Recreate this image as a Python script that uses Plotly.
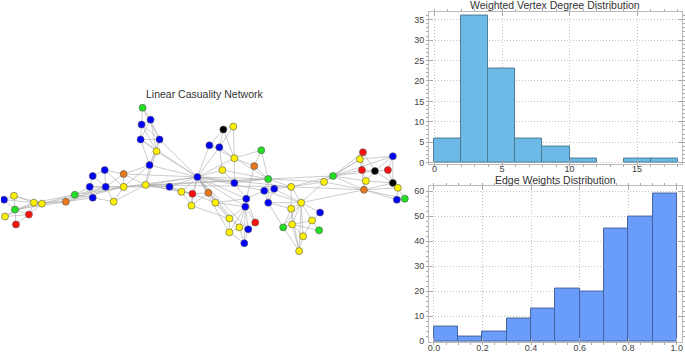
import plotly.graph_objects as go

# ---------------- Network data (layout positions in px-like units) ----------------
node_x = [3, 13, 14, 4, 28, 15, 33, 41, 65, 74,
          92, 89, 92, 104, 105, 123, 123, 113, 142, 150,
          141, 140, 159, 156, 149, 145, 169, 181, 192, 208,
          197, 209, 191, 223, 233, 219, 234, 261, 254, 222,
          234, 268, 291, 215, 246, 245, 264, 274, 268, 324,
          301, 291, 320, 229, 239, 255, 248, 229, 244, 283,
          292, 312, 319, 303, 299, 363, 360, 393, 362, 375,
          388, 333, 366, 364, 393, 398, 397, 405]
node_y = [202, 198, 212, 219, 217, 227, 205, 206, 204, 197,
          200, 189, 178, 172, 189, 176, 189, 204, 109, 121,
          126, 141, 141, 153, 167, 187, 189, 194, 196, 195,
          179, 147, 208, 131, 128, 149, 160, 152, 168, 172,
          185, 181, 189, 205, 201, 209, 193, 191, 205, 184,
          205, 211, 215, 221, 230, 225, 232, 235, 246, 230,
          227, 223, 233, 239, 254, 154, 161, 158, 172, 173,
          172, 178, 183, 192, 185, 190, 202, 201]
node_group = ["B", "Y", "G", "Y", "R", "R", "Y", "Y", "O", "G",
              "B", "B", "B", "B", "B", "O", "Y", "Y", "G", "B",
              "B", "B", "B", "Y", "B", "Y", "B", "Y", "R", "O",
              "B", "B", "Y", "K", "Y", "B", "Y", "G", "O", "Y",
              "B", "G", "Y", "Y", "B", "B", "B", "B", "B", "Y",
              "Y", "Y", "B", "Y", "Y", "R", "B", "Y", "B", "G",
              "Y", "Y", "G", "Y", "Y", "R", "Y", "B", "R", "K",
              "R", "G", "Y", "O", "K", "Y", "B", "G"]
edges = [
    (1, 2), (1, 3), (1, 7), (2, 3), (2, 7), (2, 8), (3, 4), (3, 5), (3, 6), (3, 7), (3, 8), (4, 7), (5, 6),
    (5, 7), (5, 8), (7, 8), (4, 5),
    (7, 9), (8, 9), (7, 10), (8, 10), (3, 9), (9, 10), (9, 11), (10, 11), (10, 12), (10, 15), (9, 17),
    (8, 17), (10, 17), (9, 15),
    (11, 12), (11, 15), (11, 18), (12, 13), (12, 15), (12, 17), (13, 14), (13, 15), (14, 15), (14, 16),
    (14, 17), (15, 16), (15, 17), (16, 17), (16, 25), (17, 18), (15, 18), (17, 26), (16, 26), (17, 25),
    (18, 26), (17, 27), (17, 31), (16, 31),
    (19, 20), (19, 21), (19, 23), (20, 21), (20, 22), (20, 23), (20, 24), (21, 22), (21, 23), (21, 24),
    (22, 23), (22, 24), (22, 25), (23, 24), (23, 25), (24, 25), (23, 31), (24, 31), (25, 26), (25, 31),
    (24, 26),
    (26, 27), (26, 28), (26, 31), (27, 28), (27, 31), (28, 29), (28, 31), (28, 33), (29, 30), (29, 31),
    (29, 33), (30, 31), (30, 33), (26, 29), (26, 42), (17, 42), (26, 43), (27, 29),
    (31, 32), (31, 36), (31, 40), (31, 41), (31, 42), (31, 43), (31, 44), (31, 45), (31, 46), (31, 47),
    (31, 54), (31, 55), (31, 57), (31, 58), (31, 37), (31, 33), (31, 22),
    (32, 34), (32, 36), (32, 37), (34, 35), (34, 36), (34, 37), (35, 37), (35, 36), (36, 37), (36, 40),
    (37, 38), (37, 39), (37, 42), (37, 41), (38, 39), (38, 42), (39, 42), (39, 45), (40, 42), (40, 41),
    (41, 42), (41, 45),
    (42, 43), (42, 47), (42, 48), (42, 49), (42, 50), (42, 72), (43, 50), (43, 51), (43, 52), (43, 48),
    (47, 48), (47, 49), (48, 49), (45, 46), (45, 47), (44, 45), (44, 46), (30, 44), (29, 44), (44, 54),
    (49, 51), (48, 51), (47, 51),
    (46, 54), (46, 55), (46, 56), (46, 57), (46, 59), (46, 58), (54, 55), (54, 58), (55, 58), (55, 59),
    (57, 59), (56, 57), (45, 56), (55, 57), (58, 59), (33, 54),
    (51, 52), (51, 53), (51, 60), (51, 61), (51, 62), (51, 64), (51, 65), (51, 50), (52, 60), (52, 61),
    (52, 65), (61, 62), (61, 64), (61, 65), (60, 61), (62, 63), (62, 53), (64, 65), (60, 65), (62, 64),
    (61, 63), (49, 60), (52, 49),
    (51, 74), (43, 74), (50, 72), (50, 74), (50, 67), (43, 72),
    (72, 66), (72, 67), (72, 69), (72, 70), (72, 73), (72, 74), (72, 68), (66, 67), (66, 69), (66, 70),
    (67, 69), (67, 68), (69, 70), (69, 73), (69, 74), (70, 71), (70, 68), (70, 75), (70, 73), (71, 68),
    (71, 75), (73, 74), (74, 75), (74, 76), (74, 77), (74, 78), (75, 76), (76, 77), (76, 78), (77, 78),
    (73, 75), (68, 75),
]
group_colors = {"B": "#0000FF", "Y": "#FFF200", "G": "#22E022", "R": "#FF1010",
                "O": "#E8781A", "K": "#000000"}

# ---------------- Histogram data ----------------
deg_bin_left = [0, 2, 4, 6, 8, 10, 12, 14, 16]
deg_counts = [6, 36, 23, 6, 4, 1, 0, 1, 1]
deg_bin_width = 2

w_bin_left = [0.0, 0.1, 0.2, 0.3, 0.4, 0.5, 0.6, 0.7, 0.8, 0.9]
w_counts = [6, 2, 4, 9, 13, 21, 20, 45, 50, 59]
w_bin_width = 0.1

W, H = 685, 353

fig = go.Figure()

# edges
ex, ey = [], []
for a, b in edges:
    ex += [node_x[a - 1], node_x[b - 1], None]
    ey += [node_y[a - 1], node_y[b - 1], None]
fig.add_trace(go.Scatter(x=ex, y=ey, mode="lines",
                         line=dict(color="rgba(170,170,170,0.75)", width=0.8),
                         hoverinfo="skip", showlegend=False, xaxis="x", yaxis="y"))
fig.add_trace(go.Scatter(x=node_x, y=node_y, mode="markers",
                         marker=dict(size=7, color=[group_colors[g] for g in node_group],
                                     line=dict(color="#555555", width=0.6)),
                         showlegend=False, xaxis="x", yaxis="y"))

# degree histogram
fig.add_trace(go.Bar(x=[l + deg_bin_width / 2 for l in deg_bin_left], y=deg_counts,
                     width=[deg_bin_width] * len(deg_counts),
                     marker=dict(color="#6CBAE5",
                                 line=dict(color="#4D7A94", width=[1 if c > 0 else 0 for c in deg_counts])),
                     showlegend=False, xaxis="x2", yaxis="y2"))
# weights histogram
fig.add_trace(go.Bar(x=[l + w_bin_width / 2 for l in w_bin_left], y=w_counts,
                     width=[w_bin_width] * len(w_counts),
                     marker=dict(color="#6A9CFC",
                                 line=dict(color="#45639A", width=[1 if c > 0 else 0 for c in w_counts])),
                     showlegend=False, xaxis="x3", yaxis="y3"))

tickfont = dict(family="Liberation Sans, Arial, sans-serif", size=9, color="#444444")
frame = dict(showline=True, linecolor="#BBBBBB", linewidth=1, mirror="ticks",
             ticks="inside", ticklen=4, tickcolor="#AAAAAA", tickfont=tickfont,
             showgrid=True, gridcolor="#C4C4C4", griddash="1px,2px", gridwidth=1,
             zeroline=False)

fig.update_layout(
    width=W, height=H, margin=dict(l=0, r=0, t=0, b=0),
    paper_bgcolor="white", plot_bgcolor="white",
    bargap=0,
    xaxis=dict(domain=[0, 1], range=[0, W], visible=False),
    yaxis=dict(domain=[0, 1], range=[H, 0], visible=False),
    xaxis2=dict(domain=[429.3 / W, 682.7 / W], range=[-0.4, 18.3], anchor="y2",
                tickvals=[0, 5, 10, 15], ticklabelstandoff=-4,
                minor=dict(dtick=1, ticklen=2, tickcolor="#AAAAAA", showgrid=False),
                **frame),
    yaxis2=dict(domain=[(H - 165.7) / H, (H - 11.7) / H], range=[-0.3, 37.0], anchor="x2",
                tickvals=[0, 5, 10, 15, 20, 25, 30, 35], ticklabelstandoff=2,
                minor=dict(dtick=1, ticklen=2, tickcolor="#AAAAAA", showgrid=False),
                **frame),
    xaxis3=dict(domain=[429.3 / W, 682.7 / W], range=[-0.02, 1.02], anchor="y3",
                tickvals=[0, 0.2, 0.4, 0.6, 0.8, 1.0], ticktext=["0.0", "0.2", "0.4", "0.6", "0.8", "1.0"],
                ticklabelstandoff=-3,
                minor=dict(dtick=0.05, ticklen=2, tickcolor="#AAAAAA", showgrid=False),
                **frame),
    yaxis3=dict(domain=[(H - 346) / H, (H - 187.7) / H], range=[-0.4, 62.2], anchor="x3",
                tickvals=[0, 10, 20, 30, 40, 50, 60], ticklabelstandoff=2,
                minor=dict(dtick=2, ticklen=2, tickcolor="#AAAAAA", showgrid=False),
                **frame),
    annotations=[
        dict(text="Linear Casuality Network", x=204 / W, y=(H - 94.7) / H, xref="paper", yref="paper",
             showarrow=False, xanchor="center", yanchor="middle",
             font=dict(family="Liberation Sans, Arial, sans-serif", size=10.5, color="#333333")),
        dict(text="Weighted Vertex Degree Distribution", x=556 / W, y=(H - 5) / H, xref="paper", yref="paper",
             showarrow=False, xanchor="center", yanchor="middle",
             font=dict(family="Liberation Sans, Arial, sans-serif", size=10.5, color="#333333")),
        dict(text="Edge Weights Distribution", x=556.5 / W, y=(H - 182.3) / H, xref="paper", yref="paper",
             showarrow=False, xanchor="center", yanchor="middle",
             font=dict(family="Liberation Sans, Arial, sans-serif", size=10.5, color="#333333")),
    ],
)

fig.write_html("out.html", config={"displayModeBar": False},
               post_script="document.body.style.margin='0';document.body.style.padding='0';")
